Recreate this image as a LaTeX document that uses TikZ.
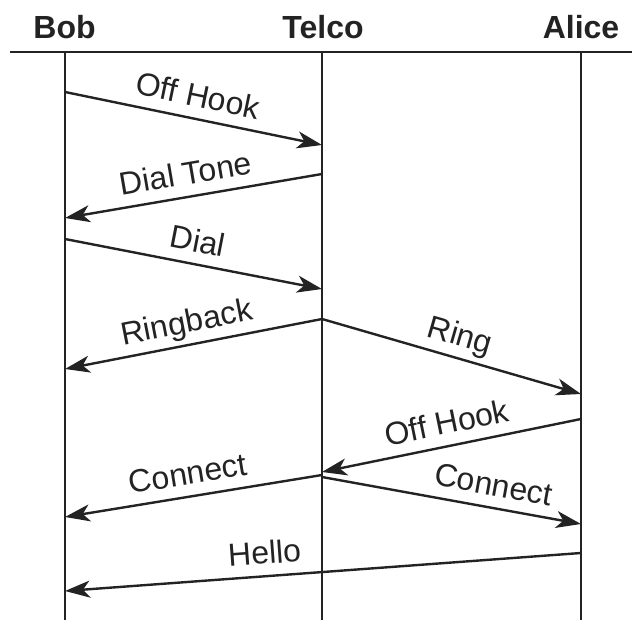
\documentclass[tikz,border=0pt]{standalone}
\usepackage{fontspec}
\setmainfont{Liberation Sans}
\usetikzlibrary{arrows.meta}
\definecolor{ink}{RGB}{35,35,35}
\begin{document}
\begin{tikzpicture}[x=1pt,y=1pt,
  hdr/.style={font=\fontsize{32}{36}\selectfont\bfseries, text=ink, anchor=base, inner sep=0pt},
  life/.style={line width=2.3pt, draw=ink},
  rule/.style={line width=2.7pt, draw=ink},
  msg/.style={line width=2.4pt, draw=ink, -{Stealth[length=25pt,width=17pt,inset=7pt]}},
  lbl/.style={sloped, above=11pt, inner sep=0pt, text depth=0pt, font=\fontsize{32}{36}\selectfont, text=ink}]
\useasboundingbox (0,0) rectangle (632,-620);
% headers
\node[hdr] (hbob) at (64.5,-39) {Bob};
\node[hdr] (htel) at (323,-39) {Telco};
\node[hdr] (hali) at (581,-39) {Alice};
% header rule
\coordinate (rl) at (10,-52);
\coordinate (rr) at (632,-52);
\draw[rule] (rl) -- (rr);
% lifelines
\coordinate (bt) at (65,-52);  \coordinate (bb) at (65,-620);
\coordinate (tt) at (322,-52); \coordinate (tb) at (322,-620);
\coordinate (at) at (581,-52); \coordinate (ab) at (581,-620);
\draw[life] (bt) -- (bb);
\draw[life] (tt) -- (tb);
\draw[life] (at) -- (ab);
% message end points
\coordinate (m1s) at (65,-92);   \coordinate (m1e) at (322,-145);
\coordinate (m2s) at (322,-174); \coordinate (m2e) at (65,-218);
\coordinate (m3s) at (65,-239);  \coordinate (m3e) at (322,-289);
\coordinate (m4s) at (322,-319); \coordinate (m4e) at (65,-369);
\coordinate (m5e) at (581,-394);
\coordinate (m6s) at (581,-419); \coordinate (m6e) at (322,-472);
\coordinate (m7s) at (322,-475); \coordinate (m7e) at (65,-517);
\coordinate (m8s) at (322,-477); \coordinate (m8e) at (581,-524);
\coordinate (m9s) at (581,-553); \coordinate (m9e) at (65,-591);
% messages
\draw[msg] (m1s) -- node[lbl, pos=0.5] (l1) {Off Hook} (m1e);
\draw[msg] (m2s) -- node[lbl, pos=0.515] (l2) {Dial Tone} (m2e);
\draw[msg] (m3s) -- node[lbl, pos=0.5] (l3) {Dial} (m3e);
\draw[msg] (m4s) -- node[lbl, pos=0.51] (l4) {Ringback} (m4e);
\draw[msg] (m4s) -- node[lbl, pos=0.51] (l5) {Ring} (m5e);
\draw[msg] (m6s) -- node[lbl, pos=0.5] (l6) {Off Hook} (m6e);
\draw[msg] (m7s) -- node[lbl, pos=0.507] (l7) {Connect} (m7e);
\draw[msg] (m8s) -- node[lbl, pos=0.647] (l8) {Connect} (m8e);
\draw[msg] (m9s) -- node[lbl, pos=0.61] (l9) {Hello} (m9e);
\end{tikzpicture}
\end{document}
